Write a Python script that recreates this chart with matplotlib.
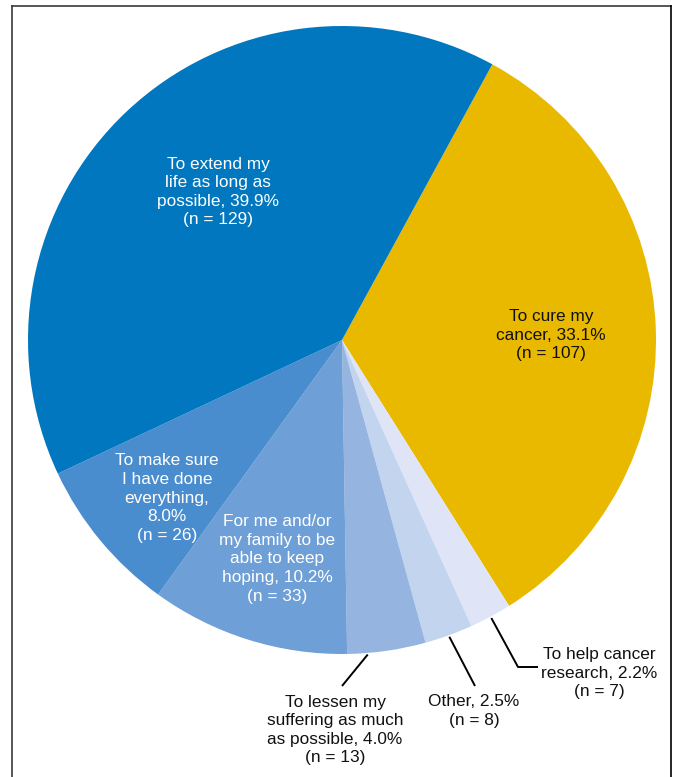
import numpy as np
import matplotlib.pyplot as plt
from matplotlib.lines import Line2D

plt.rcParams['font.family'] = ['Liberation Sans', 'DejaVu Sans']

# slices in clockwise order starting from the top right boundary
labels = [
    "To cure my\ncancer, 33.1%\n(n = 107)",
    "To help cancer\nresearch, 2.2%\n(n = 7)",
    "Other, 2.5%\n(n = 8)",
    "To lessen my\nsuffering as much\nas possible, 4.0%\n(n = 13)",
    "For me and/or\nmy family to be\nable to keep\nhoping, 10.2%\n(n = 33)",
    "To make sure\nI have done\neverything,\n8.0%\n(n = 26)",
    "To extend my\nlife as long as\npossible, 39.9%\n(n = 129)",
]
pcts = [33.1, 2.2, 2.5, 4.0, 10.2, 8.0, 39.9]
counts = [107, 7, 8, 13, 33, 26, 129]
colors = ["#E9B900", "#DFE5F7", "#C2D4EE", "#95B4E0", "#6E9FD6", "#4A8DCF", "#0077BE"]
text_colors = ["#111111", "#111111", "#111111", "#111111", "white", "white", "white"]
start_angle = 61.4

W, H = 676, 777
cx, cy, R = 342, 340, 314


def px(x, y):
    # pixel position (from top left) -> data coords, pie radius = 1
    return (x - cx) / R, (cy - y) / R


fig = plt.figure(figsize=(W / 100, H / 100), dpi=100)
ax = fig.add_axes([0, 0, 1, 1])

wedges, _ = ax.pie(counts, colors=colors, startangle=start_angle, counterclock=False,
                   radius=1, center=(0, 0), wedgeprops=dict(linewidth=0))
ax.set_aspect('auto')
ax.set_xlim(px(0, 0)[0], px(W, 0)[0])
ax.set_ylim(px(0, H)[1], px(0, 0)[1])
ax.axis('off')

# label positions (pixels), inside or outside the pie
label_pos = [(551, 335), (599, 673), (474, 711), (335, 730), (277, 559), (167, 498), (218, 192)]
for i, (lab, pos) in enumerate(zip(labels, label_pos)):
    x, y = px(*pos)
    ax.text(x, y, lab, ha='center', va='center', fontsize=12.4, color=text_colors[i],
            linespacing=1.3)

# leader lines for small slices
leaders = {1: [(518, 667), (538, 667)], 2: [(475, 686)], 3: [(342, 686)]}
angle_tweak = {1: 0.0, 2: 0.0, 3: -3.5}
for i, pts in leaders.items():
    w = wedges[i]
    mid = np.deg2rad((w.theta1 + w.theta2) / 2 + angle_tweak[i])
    xs = [np.cos(mid) * 1.005] + [px(*p)[0] for p in pts]
    ys = [np.sin(mid) * 1.005] + [px(*p)[1] for p in pts]
    ax.plot(xs, ys, color='black', lw=1.4, solid_capstyle='butt')

# frame round the panel (open at the bottom)
fc = '#3a3a3a'
fig.add_artist(Line2D([11.5 / W, 11.5 / W], [0, 1 - 5.5 / H], color=fc, lw=1.2, transform=fig.transFigure))
fig.add_artist(Line2D([11.5 / W, 670.5 / W], [1 - 5.5 / H, 1 - 5.5 / H], color=fc, lw=1.2, transform=fig.transFigure))
fig.add_artist(Line2D([670.5 / W, 670.5 / W], [0, 1 - 5.5 / H], color='black', lw=1.2, transform=fig.transFigure))

fig.savefig('out.png', dpi=100)
